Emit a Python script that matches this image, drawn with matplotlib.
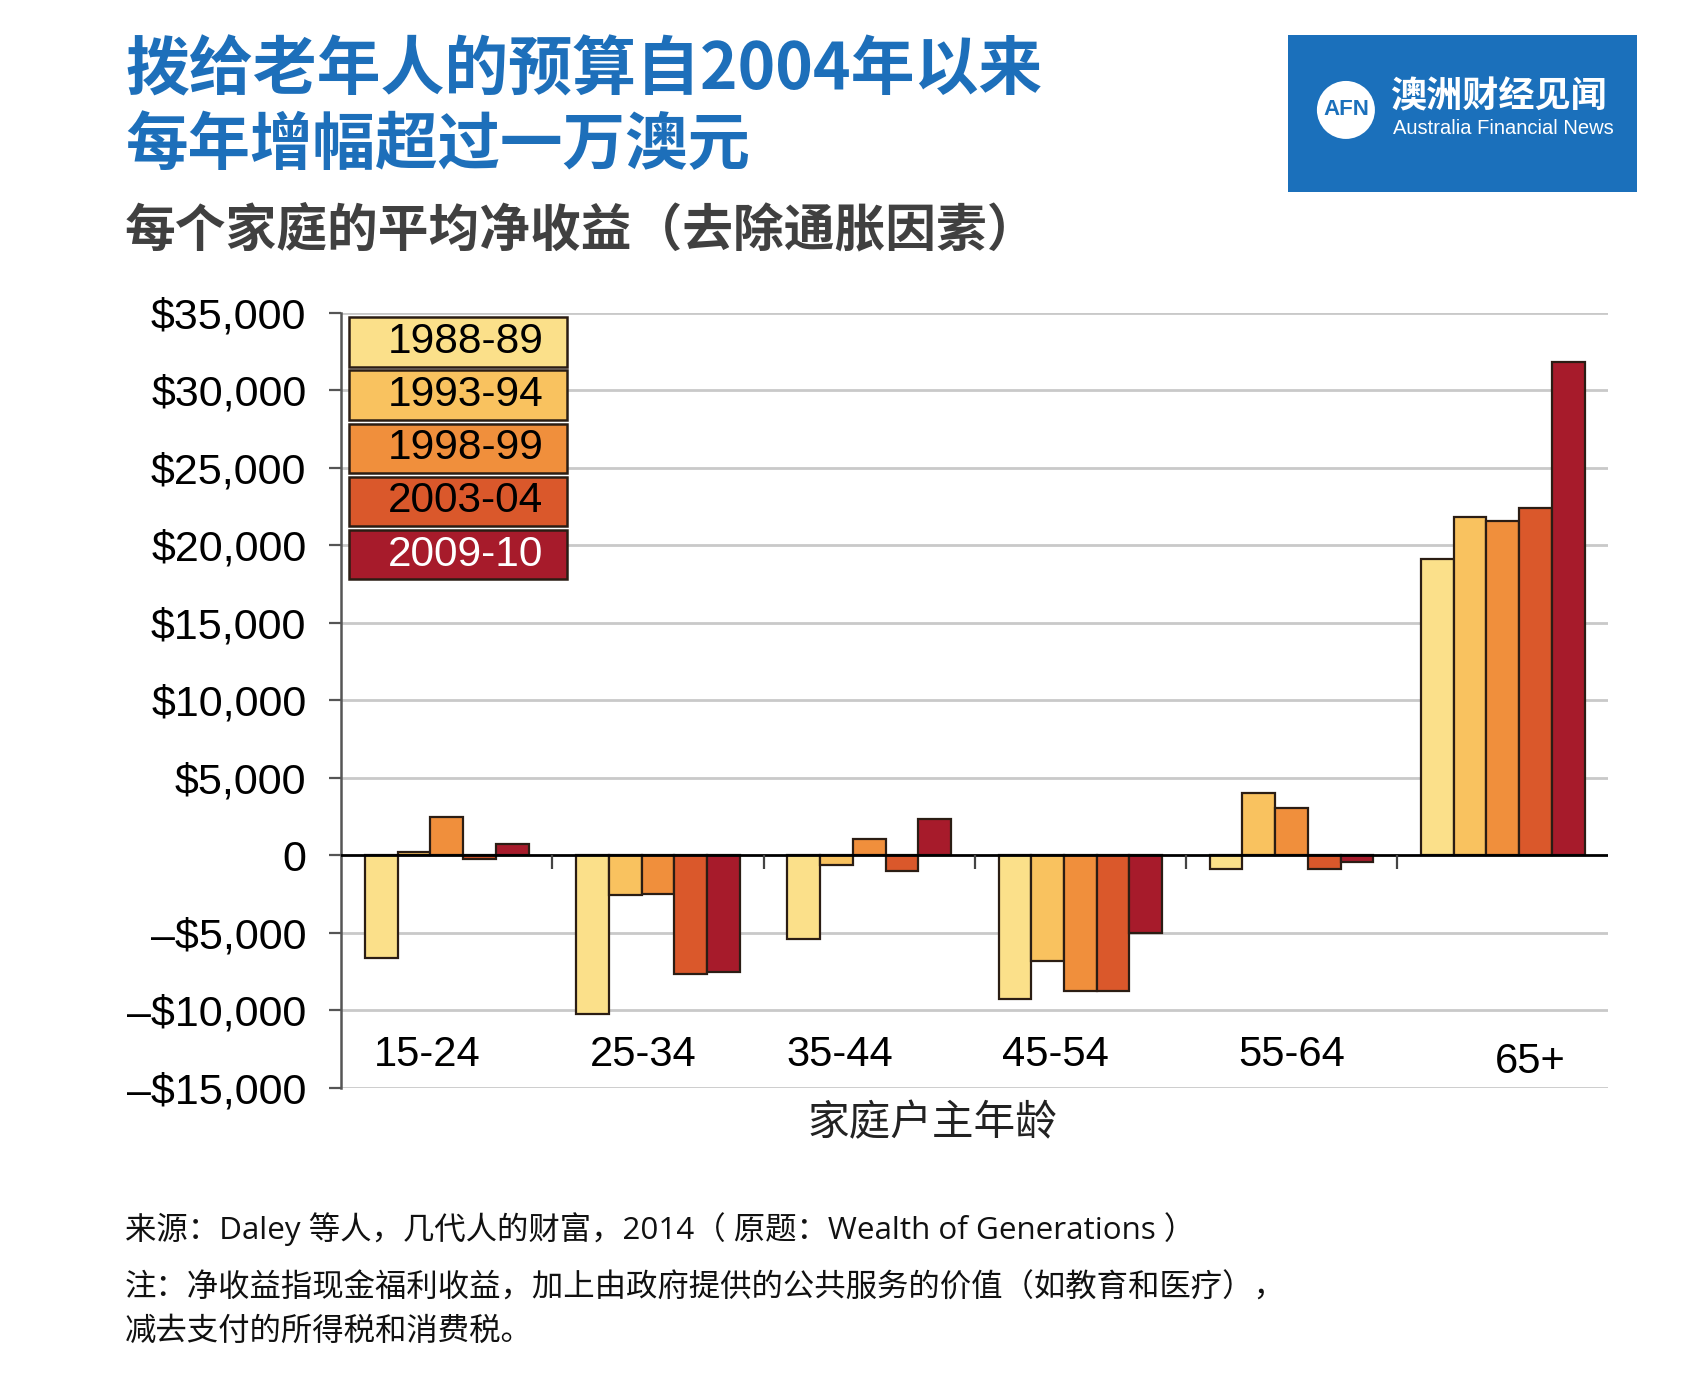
import numpy as np
import matplotlib
matplotlib.use("Agg")
from matplotlib import pyplot as plt
from matplotlib.patches import Rectangle, Ellipse

plt.rcParams['font.family'] = ['Noto Sans CJK SC', 'DejaVu Sans']

# data (AUD per household, inflation adjusted)
groups = ['15-24', '25-34', '35-44', '45-54', '55-64', '65+']
years = ['1988-89', '1993-94', '1998-99', '2003-04', '2009-10']
v_1988 = [-6600, -10250, -5400, -9250, -900, 19100]
v_1993 = [250, -2550, -600, -6800, 4050, 21800]
v_1998 = [2450, -2500, 1050, -8750, 3050, 21550]
v_2003 = [-250, -7650, -1000, -8750, -900, 22400]
v_2009 = [750, -7550, 2350, -5000, -400, 31800]
yticks = [-15000, -10000, -5000, 0, 5000, 10000, 15000, 20000, 25000, 30000, 35000]
ytick_labels = ['–$15,000', '–$10,000', '–$5,000', '0', '$5,000', '$10,000',
                '$15,000', '$20,000', '$25,000', '$30,000', '$35,000']

colors = ['#fbe08a', '#f9c25f', '#f08f3c', '#da582b', '#a71b2b']
edge = '#2b1d14'
blue = '#1d6fba'
latin = 'Liberation Sans'
mixed = ['Open Sans', 'Noto Sans CJK SC']

fig = plt.figure(figsize=(17.08, 13.97), dpi=100)
ax = fig.add_axes([0.1997, 0.2212, 0.742, 0.555])

series = [v_1988, v_1993, v_1998, v_2003, v_2009]
x = np.arange(len(groups))
w = 0.155
for j, vals in enumerate(series):
    ax.bar(x + (j - 2) * w, vals, width=w, color=colors[j], edgecolor=edge,
           linewidth=1.6, zorder=3)

ax.set_xlim(-0.5, 5.5)
ax.set_ylim(-15000, 35000)

# grid + zero line
for t in yticks:
    if t == 0:
        continue
    ax.axhline(t, color='#c9c9c9', lw=2, zorder=1)
ax.axhline(0, color='black', lw=2, zorder=4)
# small ticks between groups under the zero line
ax.vlines(np.arange(0.5, 5.5, 1), -850, 0, color='#444444', lw=1.6, zorder=4)

for s in ['top', 'right', 'bottom']:
    ax.spines[s].set_visible(False)
ax.spines['left'].set_color('#555555')
ax.spines['left'].set_linewidth(1.8)
ax.set_xticks([])
ax.set_yticks(yticks)
ax.set_yticklabels(ytick_labels, fontfamily=latin, fontsize=31)
ax.tick_params(axis='y', length=9, width=1.6, color='#555555', pad=16)

# group labels inside the plot
label_shift = [-0.09, -0.07, -0.14, -0.12, 0.0, 0.13]
label_y = [-12850, -12850, -12850, -12850, -12850, -13350]
for i, g in enumerate(groups):
    ax.text(i + label_shift[i], label_y[i], g, ha='center', va='center',
            fontfamily=latin, fontsize=30, zorder=5)

# legend drawn as stacked boxes
box_h = 3200
step = 3426
for j, yr in enumerate(years):
    top = 34700 - j * step
    ax.add_patch(Rectangle((-0.462, top - box_h), 1.031, box_h, facecolor=colors[j],
                           edgecolor=edge, lw=1.8, zorder=6))
    ax.text(0.09, top - box_h / 2, yr, ha='center', va='center', fontfamily=latin,
            fontsize=30.5, color='white' if j == 4 else 'black', zorder=7)

fig.text(0.5458, 0.1954, '家庭户主年龄', ha='center', va='center', fontsize=30,
         color='#222222')

# titles
fig.text(0.0732, 0.9493, '拨给老年人的预算自2004年以来', ha='left', va='center',
         fontsize=46, fontweight='bold', color=blue)
fig.text(0.0732, 0.8962, '每年增幅超过一万澳元', ha='left', va='center',
         fontsize=45, fontweight='bold', color=blue)
fig.text(0.0732, 0.8346, '每个家庭的平均净收益（去除通胀因素）', ha='left', va='center',
         fontsize=36.5, fontweight='bold', color='#404040')

# logo block
fig.patches.append(Rectangle((0.7541, 0.8626), 0.2043, 0.1124, transform=fig.transFigure,
                             facecolor='#1b70bb', edgecolor='none'))
fig.patches.append(Ellipse((0.788, 0.9213), 58 / 1708, 58 / 1397, transform=fig.transFigure,
                           facecolor='white', edgecolor='none'))
fig.text(0.788, 0.9213, 'AFN', ha='center', va='center', fontfamily=latin,
         fontsize=16, fontweight='bold', color='#1b70bb')
fig.text(0.8138, 0.9306, '澳洲财经见闻', ha='left', va='center', fontsize=26,
         fontweight='bold', color='white')
fig.text(0.8155, 0.9077, 'Australia Financial News', ha='left', va='center',
         fontfamily=latin, fontsize=14.5, color='white')

# notes
fig.text(0.0732, 0.1203, '来源：Daley 等人，几代人的财富，2014（ 原题：Wealth of Generations ）',
         ha='left', va='center', fontfamily=mixed, fontsize=22.6, color='#111111')
fig.text(0.0732, 0.0783, '注：净收益指现金福利收益，加上由政府提供的公共服务的价值（如教育和医疗），',
         ha='left', va='center', fontsize=22.6, color='#111111')
fig.text(0.0732, 0.0472, '减去支付的所得税和消费税。',
         ha='left', va='center', fontsize=22.6, color='#111111')

fig.savefig('out.png', dpi=100, facecolor='white')
